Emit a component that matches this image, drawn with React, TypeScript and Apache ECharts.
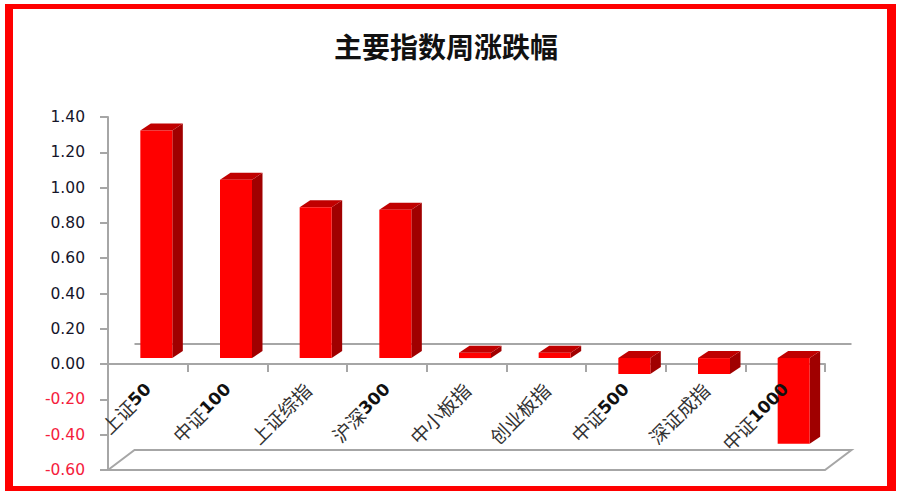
import React, { useEffect, useRef } from "react";
import * as echarts from "echarts";

const categories = ["上证50", "中证100", "上证综指", "沪深300", "中小板指", "创业板指", "中证500", "深证成指", "中证1000"];
const values = [1.29, 1.01, 0.855, 0.84, 0.03, 0.03, -0.09, -0.09, -0.485];
const yMin = -0.6;
const yMax = 1.4;
const yStep = 0.2;

const GRAY = "#a6a6a6";
const BAR_SHIFT = [8.5, -6];
const BAR_W = 32;
const DEPTH = [10.5, -7];
const WALL = [26.5, -20];

const barItem = (params: any, api: any) => {
  const i = api.value(0);
  const v = api.value(1);
  const base = api.coord([i, 0]);
  const end = api.coord([i, v]);
  const cx = base[0] + BAR_SHIFT[0];
  const x0 = cx - BAR_W / 2;
  const x1 = cx + BAR_W / 2;
  const yTop = Math.min(base[1], end[1]) + BAR_SHIFT[1];
  const yBot = Math.max(base[1], end[1]) + BAR_SHIFT[1];
  const [dx, dy] = DEPTH;
  return {
    type: "group",
    children: [
      {
        type: "polygon",
        shape: { points: [[x1, yTop], [x1 + dx, yTop + dy], [x1 + dx, yBot + dy], [x1, yBot]] },
        style: { fill: "#a00000" },
      },
      {
        type: "polygon",
        shape: { points: [[x0, yTop], [x0 + dx, yTop + dy], [x1 + dx, yTop + dy], [x1, yTop]] },
        style: { fill: "#c00000" },
      },
      { type: "rect", shape: { x: x0, y: yTop, width: BAR_W, height: yBot - yTop }, style: { fill: "#ff0000" } },
    ],
  };
};

const wallItem = (params: any, api: any) => {
  const half = api.size([1, 0])[0] / 2;
  const first = api.coord([0, 0]);
  const last = api.coord([categories.length - 1, 0]);
  const floor = api.coord([0, yMin])[1];
  const xl = first[0] - half;
  const xr = last[0] + half;
  const y0 = first[1];
  const [dx, dy] = WALL;
  const st = { stroke: GRAY, lineWidth: 2, fill: "none" };
  return {
    type: "group",
    children: [
      { type: "polyline", shape: { points: [[xl + dx, y0 + dy], [xr + dx, y0 + dy]] }, style: st },
      {
        type: "polyline",
        shape: { points: [[xl, floor], [xl + dx, floor + dy], [xr + dx, floor + dy], [xr, floor], [xl, floor]] },
        style: st,
      },
    ],
  };
};

const splitLabel = (name: string) => {
  const m = name.match(/^(\D+)(\d+)$/);
  return m ? `{zh|${m[1]}}{num|${m[2]}}` : `{zh|${name}}`;
};

const borderBar = (x: number, y: number, width: number, height: number) => ({
  type: "rect",
  z: 100,
  silent: true,
  shape: { x, y, width, height },
  style: { fill: "#ff0000" },
});

export default function App() {
  const ref = useRef<HTMLDivElement>(null);
  useEffect(() => {
    document.body.style.margin = "0";
    document.body.style.background = "#ffffff";
    const chart = echarts.init(ref.current!, undefined, { renderer: "svg" });
    chart.setOption({
      animation: false,
      backgroundColor: "#ffffff",
      title: {
        text: "主要指数周涨跌幅",
        left: 441,
        top: 27,
        textAlign: "center",
        textStyle: { fontFamily: "Noto Sans CJK SC", fontSize: 28, fontWeight: "bold", color: "#111111" },
      },
      grid: { left: 108, top: 117, width: 717, height: 353, outerBoundsMode: "none" },
      xAxis: [
        {
          type: "category",
          data: categories,
          position: "bottom",
          z: 0,
          axisLine: { onZero: true, lineStyle: { color: GRAY, width: 2 } },
          axisTick: { show: true, interval: 0, length: 8, lineStyle: { color: GRAY, width: 2 } },
          axisLabel: { show: false, interval: 0 },
        },
        {
          type: "category",
          data: categories,
          position: "bottom",
          offset: -107,
          z: 10,
          axisLine: { show: false, onZero: false },
          axisTick: { show: false },
          axisLabel: {
            interval: 0,
            rotate: 45,
            margin: 23,
            formatter: splitLabel,
            rich: {
              zh: { fontFamily: "Noto Sans CJK SC", fontSize: 19, color: "#333333" },
              num: { fontFamily: "DejaVu Sans", fontSize: 17, fontWeight: "bold", color: "#111111" },
            },
          },
        },
      ],
      yAxis: {
        type: "value",
        position: "left",
        min: yMin,
        max: yMax,
        interval: yStep,
        splitLine: { show: false },
        axisLine: { show: true, onZero: false, lineStyle: { color: GRAY, width: 2 } },
        axisTick: { show: true, length: 8, lineStyle: { color: GRAY, width: 2 } },
        axisLabel: {
          margin: 23,
          fontFamily: "DejaVu Sans",
          fontSize: 15.5,
          formatter: (v: number) => v.toFixed(2),
          color: (v: any) => (Number(v) < 0 ? "#f5203c" : "#15152a"),
        },
      },
      series: [
        {
          type: "custom",
          name: "wall",
          z: 1,
          silent: true,
          renderItem: wallItem,
          data: [[0, 0]],
          encode: { x: 0, y: 1 },
          clip: false,
        },
        {
          type: "custom",
          name: "周涨跌幅",
          z: 3,
          renderItem: barItem,
          data: values.map((v, i) => [i, v]),
          encode: { x: 0, y: 1 },
          clip: false,
        },
      ],
      graphic: [
        borderBar(5, 4, 891, 5),
        borderBar(5, 486, 891, 5),
        borderBar(5, 4, 8, 487),
        borderBar(887, 4, 9, 487),
      ],
    });
    return () => chart.dispose();
  }, []);
  return <div ref={ref} style={{ width: 900, height: 495 }} />;
}
